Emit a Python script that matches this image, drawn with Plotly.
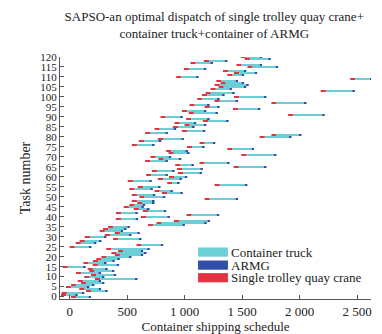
import plotly.graph_objects as go

# ---------------- data ----------------
tasks = list(range(121))

# start of quay-crane operation for each task 0..120
start = [12, -75, -70, 142, 84, -32, 12, 99, 70, 220,
         128, 186, 55, 171, 157, -61, 200, 120, 203, 232,
         276, 392, 363, 421, 319, 0, 581, 52, 87, 377,
         131, 305, 392, 261, 290, 334, 682, 755, 906, 401,
         619, 1016, 403, 636, 557, 470, 519, 587, 540, 1173,
         607, 540, 802, 738, 519, 592, 1260, 848, 505, 767,
         863, 665, 941, 715, 932, 1426, 918, 1129, 656, 772,
         703, 1493, 860, 839, 1371, 1019, 540, 1129, 601, 767,
         1652, 1754, 656, 976, 738, 897, 999, 912, 1158, 1013,
         790, 1899, 1034, 976, 1420, 1173, 1042, 1754, 1260, 1109,
         1429, 1150, 1182, 2183, 1225, 1295, 1260, 1312, 1275, 2439,
         926, 1371, 1429, 1333, 993, 1546, 1450, 1051, 1167, 1522,
         1487]

# end of ARMG operation for each task 0..120
finish = [186, 70, 128, 331, 273, 171, 215, 302, 273, 590,
          302, 404, 273, 389, 331, 139, 430, 320, 392, 436,
          537, 639, 668, 639, 697, 189, 813, 232, 276, 624,
          319, 537, 610, 465, 494, 523, 1002, 1191, 1220, 595,
          871, 1300, 592, 839, 694, 645, 656, 738, 738, 1464,
          831, 744, 984, 897, 723, 790, 1545, 955, 714, 976,
          1022, 854, 1150, 912, 1158, 1711, 1080, 1391, 854, 970,
          883, 1798, 1042, 1028, 1603, 1173, 738, 1266, 796, 993,
          1928, 2015, 854, 1179, 926, 1086, 1188, 1100, 1382, 1217,
          984, 2218, 1289, 1188, 1658, 1304, 1217, 2059, 1464, 1304,
          1711, 1347, 1435, 2480, 1411, 1536, 1557, 1516, 1464, 2634,
          1121, 1516, 1630, 1536, 1188, 1812, 1673, 1246, 1371, 1749,
          1673]

QC_TIME = 45     # quay crane handling time (estimated)
ARMG_TIME = 22   # ARMG handling time (estimated)

x_tickvals = [0, 500, 1000, 1500, 2000, 2500]
x_ticktext = ["0", "500", "1 000", "1 500", "2 000", "2 500"]

series_names = ["Container truck", "ARMG", "Single trolley quay crane"]
C_TRUCK = "#6ccfd6"
C_ARMG = "#2f4ea6"
C_QC = "#e2343f"
series_colors = [C_TRUCK, C_ARMG, C_QC]

# ---------------- derived segments ----------------
truck_base = [s + QC_TIME for s in start]
truck_len = [f - s - QC_TIME - ARMG_TIME for s, f in zip(start, finish)]
armg_base = [f - ARMG_TIME for f in finish]

FONT = "Liberation Serif"
BW = 0.62

fig = go.Figure()
fig.add_trace(go.Bar(y=tasks, x=[QC_TIME] * len(tasks), base=start, orientation="h",
                     width=BW, marker=dict(color=C_QC, line=dict(width=0)),
                     name=series_names[2], showlegend=False, hoverinfo="skip"))
fig.add_trace(go.Bar(y=tasks, x=truck_len, base=truck_base, orientation="h",
                     width=BW, marker=dict(color=C_TRUCK, line=dict(width=0)),
                     name=series_names[0], showlegend=False, hoverinfo="skip"))
fig.add_trace(go.Bar(y=tasks, x=[ARMG_TIME] * len(tasks), base=armg_base, orientation="h",
                     width=BW, marker=dict(color=C_ARMG, line=dict(width=0)),
                     name=series_names[1], showlegend=False, hoverinfo="skip"))

# manual compact legend (swatch + text) in the lower right of the plot
leg_y = [0.194, 0.140, 0.088]
shapes = []
annotations = []
for name, col, yc in zip(series_names, series_colors, leg_y):
    shapes.append(dict(type="rect", xref="paper", yref="paper",
                       x0=0.444, x1=0.540, y0=yc - 0.019, y1=yc + 0.019,
                       fillcolor=col, line=dict(width=0)))
    annotations.append(dict(xref="paper", yref="paper", x=0.548, y=yc,
                            xanchor="left", yanchor="middle", showarrow=False,
                            borderpad=0,
                            text=name, font=dict(family=FONT, size=13, color="#222")))

axis_common = dict(showgrid=False, zeroline=False, showline=True, linecolor="#555",
                   linewidth=1, ticks="inside", ticklen=4, tickcolor="#555")

fig.update_layout(
    width=382, height=334,
    margin=dict(l=52, r=19, t=49, b=33),
    paper_bgcolor="white", plot_bgcolor="white",
    barmode="overlay",
    showlegend=False,
    shapes=shapes,
    annotations=annotations,
    title=dict(text="SAPSO-an optimal dispatch of single trolley quay crane+<br>container truck+container of ARMG",
               x=0.54, xanchor="center", y=0.962, yanchor="top",
               font=dict(family=FONT, size=13, color="#222")),
    font=dict(family=FONT, size=13, color="#222"),
    xaxis=dict(range=[-84, 2620], tickvals=x_tickvals, ticktext=x_ticktext,
               tickfont=dict(family=FONT, size=13, color="#222"),
               title=dict(text="Container shipping schedule", standoff=2,
                          font=dict(family=FONT, size=13, color="#222")),
               **axis_common),
    yaxis=dict(range=[-1.2, 120], dtick=5, tick0=0,
               tickfont=dict(family=FONT, size=11, color="#222"),
               title=dict(text="Task number", standoff=6,
                          font=dict(family=FONT, size=14, color="#222")),
               **axis_common),
)

fig.write_html("out.html")
